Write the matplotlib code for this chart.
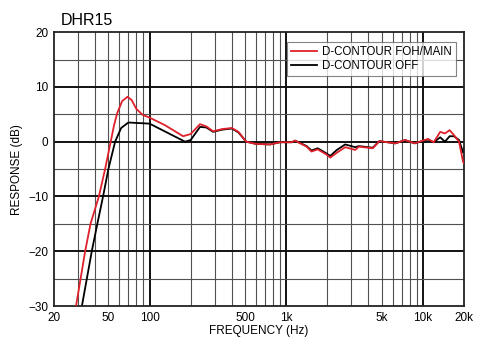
import matplotlib
matplotlib.use('Agg')
from matplotlib import pyplot as plt
from matplotlib.ticker import FixedLocator, NullFormatter

plt.rcParams['font.family'] = ['Liberation Sans', 'DejaVu Sans']

# D-CONTOUR FOH/MAIN (red)
freq_red = [29, 33.8, 37, 42.6, 47.3, 52, 55, 58, 63, 69, 74, 80, 89, 100,
            130, 176, 200, 234, 260, 292, 340, 400, 447, 510, 600, 763, 900,
            1100, 1160, 1410, 1530, 1700, 1960, 2100, 2350, 2700, 3200, 3400,
            4300, 4800, 6300, 7400, 8700, 10900, 12000, 13400, 14500, 15700,
            16900, 18400, 19700, 20000]
db_red = [-30, -20, -15, -10, -5, 0, 3, 5.2, 7.4, 8.2, 7.6, 6.0, 4.9, 4.4,
          3.0, 1.0, 1.4, 3.2, 2.8, 1.9, 2.3, 2.5, 1.8, 0.0, -0.4, -0.5, -0.1,
          -0.1, 0.2, -0.9, -1.8, -1.4, -2.3, -2.9, -2.0, -1.0, -1.5, -0.9,
          -1.2, 0.1, -0.3, 0.3, -0.3, 0.5, -0.1, 1.8, 1.5, 2.1,
          1.2, 0.0, -3.7, -3.9]

# D-CONTOUR OFF (black)
freq_blk = [32, 37.8, 41.5, 45.7, 50, 56, 62, 70, 100, 182, 200, 234, 260, 292,
            340, 400, 447, 510, 600, 763, 900, 1100, 1160, 1410, 1530, 1700,
            1960, 2100, 2350, 2700, 3200, 3400, 4300, 4800, 6300, 7400, 8700,
            10900, 12000, 13400, 14500, 15700, 16900, 18400, 19700, 20000]
db_blk = [-30, -20, -15, -10, -5, 0, 2.5, 3.5, 3.3, 0.0, 0.3, 2.7, 2.6, 1.8,
          2.2, 2.4, 1.7, 0.0, -0.4, -0.5, -0.1, -0.1, 0.2, -0.8, -1.6, -1.2,
          -2.1, -2.6, -1.5, -0.5, -1.0, -0.8, -1.1, 0.1, -0.3, 0.3, -0.3,
          0.4, -0.1, 0.8, 0.0, 1.0, 1.0, 0.3, -2.0, -1.2]

xtick_vals = [20, 50, 100, 500, 1000, 5000, 10000, 20000]
xtick_labels = ['20', '50', '100', '500', '1k', '5k', '10k', '20k']
ytick_vals = [-30, -20, -10, 0, 10, 20]

fig = plt.figure(figsize=(5.0, 3.53), dpi=100)
ax = fig.add_axes([0.108, 0.133, 0.820, 0.776])

# grid
minor_x = []
for dec in [10, 100, 1000, 10000]:
  for m in range(2, 10):
    f = dec * m
    if 20 < f < 20000:
      minor_x.append(f)
for f in minor_x:
  ax.axvline(f, color='#505050', lw=0.8, zorder=1)
for f in [100, 1000, 10000]:
  ax.axvline(f, color='#111111', lw=1.4, zorder=1)
for y in [-25, -15, -5, 5, 15]:
  ax.axhline(y, color='#505050', lw=0.8, zorder=1)
for y in [-20, -10, 0, 10]:
  ax.axhline(y, color='#111111', lw=1.4, zorder=1)

ax.plot(freq_red, db_red, color='#e0202a', lw=1.3, label='D-CONTOUR FOH/MAIN', zorder=3)
ax.plot(freq_blk, db_blk, color='#000000', lw=1.3, label='D-CONTOUR OFF', zorder=2)

ax.set_xscale('log')
ax.set_xlim(20, 20000)
ax.set_ylim(-30, 20)
ax.xaxis.set_major_locator(FixedLocator(xtick_vals))
ax.set_xticklabels(xtick_labels)
ax.xaxis.set_minor_formatter(NullFormatter())
ax.xaxis.set_minor_locator(FixedLocator([]))
ax.set_yticks(ytick_vals)
ax.tick_params(length=0, labelsize=8.5, pad=4)
for s in ax.spines.values():
  s.set_color('#222222')
  s.set_linewidth(1.3)

ax.set_xlabel('FREQUENCY (Hz)', fontsize=8.5, labelpad=1)
ax.set_ylabel('RESPONSE (dB)', fontsize=8.5, labelpad=4)
fig.text(0.122, 0.930, 'DHR15', fontsize=11.5)

leg = ax.legend(loc='upper right', bbox_to_anchor=(0.995, 0.985), fontsize=8.3,
                frameon=True, fancybox=False, handlelength=2.2,
                borderpad=0.35, labelspacing=0.2, handletextpad=0.5)
leg.get_frame().set_edgecolor('#666666')
leg.get_frame().set_linewidth(0.8)

plt.savefig('out.png', dpi=100)
